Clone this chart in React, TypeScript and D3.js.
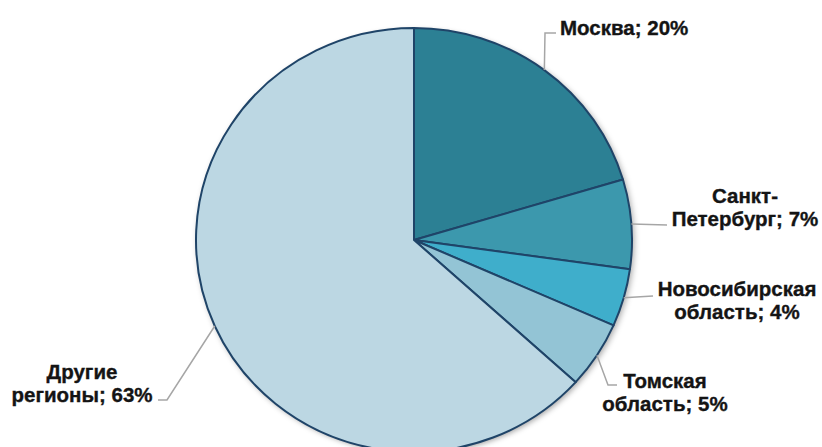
import React from "react";
import * as d3 from "d3";

const categories = ["Москва", "Санкт-Петербург", "Новосибирская область", "Томская область", "Другие регионы"];
const shares = [20.4, 6.8, 4.4, 5.1, 63.3];
const labelLines = [
  ["Москва; 20%"],
  ["Санкт-", "Петербург; 7%"],
  ["Новосибирская", "область; 4%"],
  ["Томская", "область; 5%"],
  ["Другие", "регионы; 63%"],
];
const colors = ["#2C8094", "#3C98AD", "#3FAECB", "#93C4D5", "#BCD7E3"];

// layout for labels (leader elbows and text anchors)
const labelLayout = [
  { pts: [[545, 33], [556, 33]], x: 560, y: 35, anchor: "start" },
  { pts: [[667, 225]], x: 745, y: 203, anchor: "middle" },
  { pts: [[653, 296]], x: 737, y: 296, anchor: "middle" },
  { pts: [[608, 385], [617, 385]], x: 665, y: 388, anchor: "middle" },
  { pts: [[167, 400], [158, 400]], x: 82, y: 379, anchor: "middle" },
];

export default function App() {
  const W = 822, H = 447;
  const cx = 414, cy = 240, rx = 218, ry = 212;
  const data = categories.map((c, i) => ({ c, v: shares[i], i }));
  const pie = d3.pie<any>().value((d) => d.v).sort(null);
  const arcs = pie(data);
  const arc = d3.arc<any>().innerRadius(0).outerRadius(rx);
  const sy = ry / rx;
  const lineH = 22.5;

  return (
    <svg width={W} height={H} style={{ position: "absolute", left: 0, top: 0 }} xmlns="http://www.w3.org/2000/svg">
      <defs>
        <filter id="sh" x="-20%" y="-20%" width="140%" height="140%">
          <feDropShadow dx="2" dy="2" stdDeviation="3" floodColor="#000" floodOpacity="0.35" />
        </filter>
      </defs>
      <g transform={`translate(${cx},${cy}) scale(1,${sy})`}>
        <ellipse cx={0} cy={0} rx={rx} ry={rx} fill="#BCD7E3" filter="url(#sh)" />
        {arcs.map((a, i) => (
          <path key={i} d={arc(a) as string} fill={colors[i]} stroke="#1F4468" strokeWidth={2} vectorEffect="non-scaling-stroke" strokeLinejoin="round" />
        ))}
      </g>
      {arcs.map((a, i) => {
        const mid = (a.startAngle + a.endAngle) / 2;
        const x0 = cx + rx * Math.sin(mid);
        const y0 = cy - ry * Math.cos(mid);
        const lay = labelLayout[i];
        const pts = [[x0, y0], ...lay.pts];
        const line = d3.line()(pts as [number, number][]);
        return (
          <g key={i}>
            <path d={line as string} fill="none" stroke="#A6A6A6" strokeWidth={1.5} />
            <text x={lay.x} y={lay.y} textAnchor={lay.anchor as any} fontFamily="'Liberation Sans', Arial, sans-serif" fontWeight="bold" fontSize={20.5} fill="#141414" stroke="#141414" strokeWidth={0.35}>
              {labelLines[i].map((t, k) => (
                <tspan key={k} x={lay.x} dy={k === 0 ? 0 : lineH}>{t}</tspan>
              ))}
            </text>
          </g>
        );
      })}
    </svg>
  );
}
